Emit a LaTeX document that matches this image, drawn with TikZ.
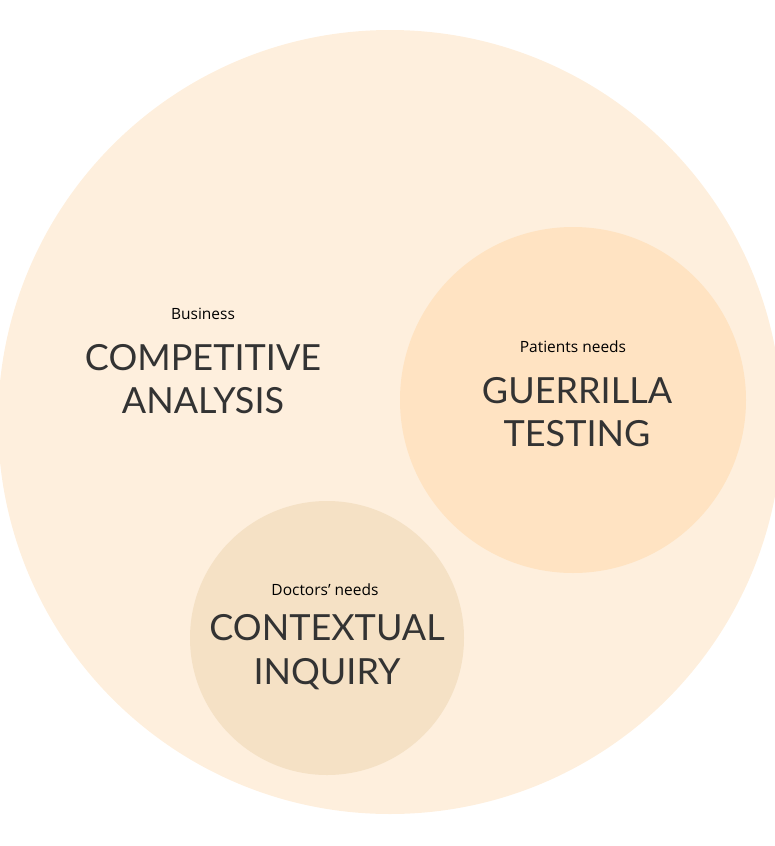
\documentclass[tikz,border=0pt]{standalone}
\usepackage{fontspec}
\setmainfont{Lato}
\newfontfamily\labelfont{Open Sans}
\usetikzlibrary{positioning}
\definecolor{outer}{HTML}{FEEFDD}
\definecolor{patients}{HTML}{FFE3C2}
\definecolor{doctors}{HTML}{F5E1C5}
\definecolor{ink}{HTML}{333333}

\begin{document}
\begin{tikzpicture}[x=1pt,y=-1pt,
  method/.style={font=\fontsize{36}{43.5}\selectfont,text=ink,align=center,inner sep=0pt},
  need/.style={font=\labelfont\fontsize{15.5}{17}\selectfont,text=black,inner sep=0pt}]
  \useasboundingbox (0,0) rectangle (775,846);

  % Circles
  \fill[outer] (390,422) circle[radius=392];
  \node[circle,fill=patients,minimum size=346,inner sep=0pt] (patients) at (573,400) {};
  \node[circle,fill=doctors,minimum size=274,inner sep=0pt] (doctors) at (327,638) {};

  % Business
  \node[need] (business) at (203,314) {Business};
  \node[method] (competitive) at (203,379) {COMPETITIVE\\ANALYSIS};

  % Patients needs
  \node[need] (patientsneed) at (573,347) {Patients needs};
  \node[method] (guerrilla) at (577,412) {GUERRILLA\\TESTING};

  % Doctors' needs
  \node[need] (doctorsneed) at (325,590) {Doctors’ needs};
  \node[method] (contextual) at (327,652) {CONTEXTUAL\\INQUIRY};
\end{tikzpicture}
\end{document}
